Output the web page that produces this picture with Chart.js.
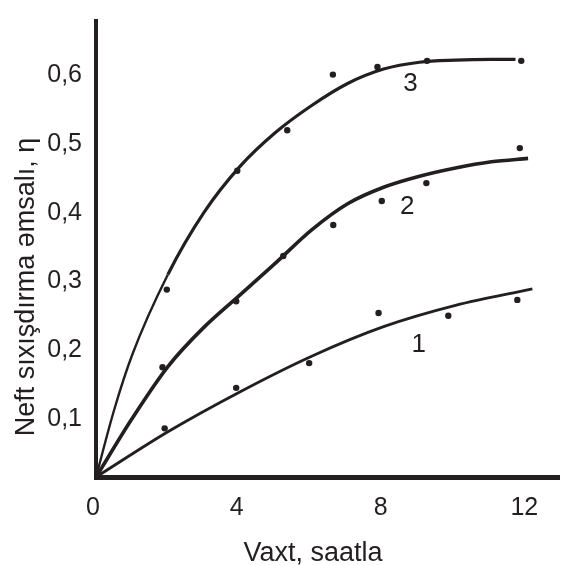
<!DOCTYPE html>
<html lang="az">
<head>
<meta charset="utf-8">
<title>Neft sıxışdırma əmsalı</title>
<script src="https://cdn.jsdelivr.net/npm/chart.js@4.4.1/dist/chart.umd.min.js"></script>
<style>
  html, body { margin: 0; padding: 0; background: #fff; }
  #qutu { width: 563px; height: 565px; }
</style>
</head>
<body>
<div id="qutu"><canvas id="qrafik" width="563" height="565"></canvas></div>
<script>
/* η(t) — üç təcrübə seriyası: ölçülmüş nöqtələr + hamarlanmış əyrilər */

// ölçülmüş nöqtələr (saat, η)
const NOQTE1_X = [1.91, 3.90, 5.93, 7.86, 9.80, 11.72];
const NOQTE1_Y = [0.086, 0.145, 0.181, 0.254, 0.250, 0.273];
const NOQTE2_X = [1.85, 3.90, 5.21, 6.60, 7.95, 9.19, 11.79];
const NOQTE2_Y = [0.175, 0.271, 0.337, 0.382, 0.417, 0.443, 0.494];
const NOQTE3_X = [1.97, 3.93, 5.32, 6.59, 7.83, 9.21, 11.83];
const NOQTE3_Y = [0.288, 0.461, 0.520, 0.601, 0.612, 0.621, 0.621];

// hamarlanmış əyrilər (şəkildən oxunub)
const EGRI1_X = [0, 2, 4, 6, 8, 10, 12.14];
const EGRI1_Y = [0.015, 0.081, 0.139, 0.191, 0.234, 0.265, 0.289];
const EGRI2_X = [0, 1, 2, 3, 4, 5, 6, 7, 8, 9, 10, 11, 12.02];
const EGRI2_Y = [0.015, 0.100, 0.176, 0.233, 0.280, 0.327, 0.375, 0.413, 0.437, 0.453, 0.465, 0.474, 0.479];
const EGRI3_X = [0, 0.5, 1, 2, 3, 4, 5, 6, 7, 8, 9, 10, 11, 11.67];
const EGRI3_Y = [0.015, 0.112, 0.192, 0.310, 0.400, 0.467, 0.517, 0.556, 0.588, 0.609, 0.619, 0.622, 0.623, 0.623];

// əyri nömrələri və yerləri
const ETIKETLER = ["1", "2", "3"];
const ETIKET_X = [8.98, 8.66, 8.75];
const ETIKET_Y = [0.207, 0.408, 0.588];

// oxlar
const X_TIKLER = [0, 4, 8, 12];
const Y_TIKLER = [0.1, 0.2, 0.3, 0.4, 0.5, 0.6];
const X_BASLIQ = "Vaxt, saatla";
const Y_BASLIQ = "Neft sıxışdırma əmsalı, η";

const QARA = "#231f20";
const SRIFT = "'Liberation Sans', Arial, sans-serif";

const cutlar = (xs, ys) => xs.map((x, i) => ({ x, y: ys[i] }));

function egri(xs, ys, en, segment) {
  return {
    data: cutlar(xs, ys), showLine: true, borderColor: QARA, borderWidth: en,
    pointRadius: 0, cubicInterpolationMode: "monotone", fill: false, clip: false, segment,
  };
}
function noqteler(xs, ys) {
  return {
    data: cutlar(xs, ys), showLine: false, pointRadius: 3.2,
    pointBackgroundColor: QARA, pointBorderWidth: 0,
  };
}

// ox başlıqları və əyri nömrələri
const yazilar = {
  id: "yazilar",
  afterDraw(chart) {
    const { ctx, scales: { x, y } } = chart;
    ctx.save();
    ctx.fillStyle = QARA;
    ctx.font = "26px " + SRIFT;
    ctx.textAlign = "center";
    ctx.textBaseline = "middle";
    ETIKETLER.forEach((t, i) =>
      ctx.fillText(t, x.getPixelForValue(ETIKET_X[i]), y.getPixelForValue(ETIKET_Y[i])));

    ctx.font = "27px " + SRIFT;
    ctx.textBaseline = "alphabetic";
    ctx.fillText(X_BASLIQ, 313, 561);
    ctx.translate(34, 287);
    ctx.rotate(-Math.PI / 2);
    ctx.fillText(Y_BASLIQ, 0, 0);
    ctx.restore();
  },
};

new Chart(document.getElementById("qrafik"), {
  type: "scatter",
  data: {
    datasets: [
      egri(EGRI1_X, EGRI1_Y, 2.9),
      egri(EGRI2_X, EGRI2_Y, 3.6),
      egri(EGRI3_X, EGRI3_Y, 3.2, { borderWidth: c => (c.p0.parsed.x < 1.5 ? 2.4 : 3.2) }),
      noqteler(NOQTE1_X, NOQTE1_Y),
      noqteler(NOQTE2_X, NOQTE2_Y),
      noqteler(NOQTE3_X, NOQTE3_Y),
    ],
  },
  options: {
    responsive: false, animation: false, devicePixelRatio: 1,
    layout: { padding: { top: 15, right: 0, left: 0, bottom: 0 } },
    plugins: { legend: { display: false }, tooltip: { enabled: false } },
    scales: {
      x: {
        type: "linear", min: 0, max: 12.88,
        grid: { display: false },
        border: { display: true, color: QARA, width: 5 },
        afterBuildTicks: s => { s.ticks = X_TIKLER.map(value => ({ value })); },
        afterFit: s => { s.height = 88; },
        ticks: { color: QARA, font: { family: SRIFT, size: 25 }, padding: 8,
          labelOffset: -3, maxRotation: 0, autoSkip: false },
      },
      y: {
        type: "linear", min: 0.0152, max: 0.679,
        grid: { display: false },
        border: { display: true, color: QARA, width: 4 },
        afterBuildTicks: s => { s.ticks = Y_TIKLER.map(value => ({ value })); },
        afterFit: s => { s.width = 96; },
        ticks: { color: QARA, font: { family: SRIFT, size: 25 }, padding: 6,
          callback: v => v.toFixed(1).replace(".", ",") },
      },
    },
  },
  plugins: [yazilar],
});
</script>
</body>
</html>
